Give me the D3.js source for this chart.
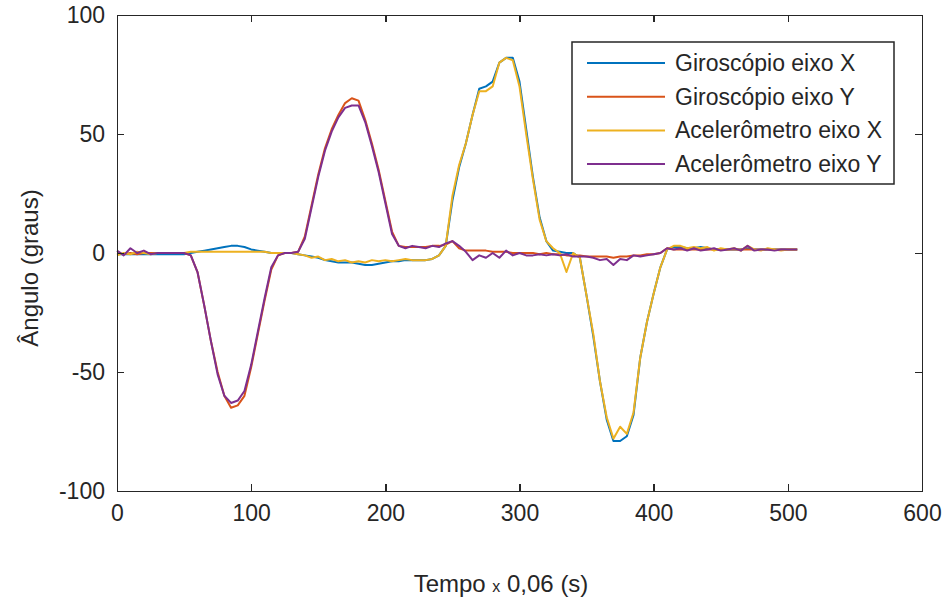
<!DOCTYPE html>
<html>
<head>
<meta charset="utf-8">
<script src="https://cdn.jsdelivr.net/npm/d3@7"></script>
<style>
  body { margin: 0; background: #fff; }
  svg { font-family: "Liberation Sans", Arial, sans-serif; }
  .axis path, .axis line { stroke: #262626; stroke-width: 1.5px; shape-rendering: crispEdges; }
  .axis text { fill: #262626; font-size: 23px; }
  .serie { fill: none; stroke-width: 2px; stroke-linejoin: round; }
</style>
</head>
<body>
<script>
// amostras (tempo x 0,06 s)
var tempo = [0,5,10,15,20,25,30,35,40,45,50,55,60,65,70,75,80,85,90,95,
  100,105,110,115,120,125,130,135,140,145,150,155,160,165,170,175,180,185,190,195,
  200,205,210,215,220,225,230,235,240,245,250,255,260,265,270,275,280,285,290,295,
  300,305,310,315,320,325,330,335,340,345,350,355,360,365,370,375,380,385,390,395,
  400,405,410,415,420,425,430,435,440,445,450,455,460,465,470,475,480,485,490,495,
  500,507];

var giroX = [-0.5,-0.5,-0.5,-0.5,-0.5,-0.5,-0.5,-0.5,-0.5,-0.5,-0.5,0,0.5,1,1.5,2,2.5,3,3,2.5,
  1.5,1,0.5,0,0,0,0,-0.5,-1,-1.5,-2,-3,-3.5,-4,-4,-4,-4.5,-5,-5,-4.5,
  -4,-3.5,-3.5,-3,-3,-3,-3,-2.5,-1,3,22,36,46,58,69,70,72,80,82,82,
  72,52,32,15,5,1,0.5,0,0,-2,-18,-35,-54,-70,-79,-79,-77,-68,-44,-29,
  -17,-6,1.5,2.5,2.5,2,2,2.5,2,1.5,1.5,1.5,1.5,1.5,2,1.5,1.5,1.5,1.5,1.5,
  1.5,1.5];

var giroY = [0,-0.5,0,-0.5,0,0,0,0,0,0,0,-1,-8,-22,-37,-50,-60,-65,-64,-60,
  -48,-34,-20,-7,-1,0,0,0.5,7,20,33,44,52,58,63,65,64,56,46,35,
  22,9,3,2.5,2.5,2.5,2.5,3,3,3.5,5,2,1,1,1,1,0.5,0.5,0.5,0,
  0,0,0,-0.5,0,-0.5,-0.5,-1,-1,-1,-1.5,-1.5,-1.5,-1.5,-2,-1.5,-1.5,-1,-1,-0.5,
  -0.5,0,2,1.5,1.5,1.5,1.5,1.5,1.5,1.5,1.5,1.5,1.5,1.5,1.5,1.5,1.5,1.5,1.5,1.5,
  1.5,1.5];

var acelX = [-1,0,-0.5,0.5,0,-0.5,0,0,0,0,0,0.5,0.5,0.5,0.5,0.5,0.5,0.5,0.5,0.5,
  0.5,0.5,0.5,0,0,0,0,-0.5,-1,-2,-1.5,-3,-2.5,-3.5,-3,-4,-3.5,-4,-3,-3.5,
  -3,-3.5,-3,-2.5,-3,-3,-3,-2.5,-1,3,24,37,46,58,68,68,70,80,82,81,
  70,50,31,14,5,2,0,-8,0,-2,-18,-34,-54,-69,-78,-73,-76,-67,-44,-29,
  -17,-6,1.5,3,3,2,2.5,2,2.5,1,2,1.5,2,1,3,1.5,1,2,1.5,1,
  1.5,1.5];

var acelY = [1,-1,2,0,1,-0.5,0,0,0,0,0,-1,-8,-22,-37,-51,-60,-63,-62,-58,
  -47,-33,-19,-6,-1,0,0,0.5,6,19,32,43,51,57,61,62,62,55,45,34,
  21,8,3,2,3,2.5,2,3,2.5,4,5,3,0.5,-3,-1,-2,0,-2,1,-1,
  0,-1,-1,-0.5,-1,-0.5,-1,-0.5,-1.5,-1.5,-1.5,-2,-3,-2.5,-5,-2.5,-3,-1,-1.5,-1,
  -0.5,0,2,1.5,2,1,2,1,1.5,2,1,1.5,2,1,3,1,1.5,1.5,1,1.5,
  1.5,1.5];

var nomes = ["Giroscópio eixo X", "Giroscópio eixo Y", "Acelerômetro eixo X", "Acelerômetro eixo Y"];
var cores = ["#0072BD", "#D95319", "#EDB120", "#7E2F8E"];
var xTicks = [0, 100, 200, 300, 400, 500, 600];
var yTicks = [-100, -50, 0, 50, 100];

var series = [giroX, giroY, acelX, acelY];

var W = 948, H = 602;
var m = {left: 117, right: 26, top: 15, bottom: 111};

var svg = d3.select("body").append("svg")
  .attr("width", W).attr("height", H);

var x = d3.scaleLinear().domain([0, 600]).range([m.left, W - m.right]);
var y = d3.scaleLinear().domain([-100, 100]).range([H - m.bottom, m.top]);

var line = d3.line()
  .x(function(d, i) { return x(tempo[i]); })
  .y(function(d) { return y(d); });

svg.selectAll("path.serie")
  .data(series)
  .enter().append("path")
  .attr("class", "serie")
  .attr("d", line)
  .attr("stroke", function(d, i) { return cores[i]; });

function fmt(d) { return String(d); }

svg.append("g").attr("class", "axis")
  .attr("transform", "translate(0," + y(-100) + ")")
  .call(d3.axisBottom(x).tickValues(xTicks).tickSize(-7).tickSizeOuter(0).tickPadding(14).tickFormat(fmt));
svg.append("g").attr("class", "axis")
  .attr("transform", "translate(0," + y(100) + ")")
  .call(d3.axisTop(x).tickValues(xTicks).tickSize(-7).tickSizeOuter(0).tickFormat(""));
svg.append("g").attr("class", "axis")
  .attr("transform", "translate(" + x(0) + ",0)")
  .call(d3.axisLeft(y).tickValues(yTicks).tickSize(-7).tickSizeOuter(0).tickPadding(12).tickFormat(fmt));
svg.append("g").attr("class", "axis")
  .attr("transform", "translate(" + x(600) + ",0)")
  .call(d3.axisRight(y).tickValues(yTicks).tickSize(-7).tickSizeOuter(0).tickFormat(""));

// rótulos
var xl = svg.append("text")
  .attr("x", 501).attr("y", 592)
  .attr("text-anchor", "middle")
  .attr("fill", "#262626")
  .style("font-size", "24px");
xl.append("tspan").text("Tempo ");
xl.append("tspan").style("font-size", "16px").text("x");
xl.append("tspan").text(" 0,06 (s)");

svg.append("text")
  .attr("transform", "translate(38,268) rotate(-90)")
  .attr("text-anchor", "middle")
  .attr("fill", "#262626")
  .style("font-size", "24px")
  .text("Ângulo (graus)");

// legenda
var leg = svg.append("g");
leg.append("rect")
  .attr("x", 572).attr("y", 42).attr("width", 322).attr("height", 142)
  .attr("fill", "#fff").attr("stroke", "#262626").attr("stroke-width", 1.5);
var itens = leg.selectAll("g.item").data(nomes).enter().append("g")
  .attr("transform", function(d, i) { return "translate(0," + (63 + i * 33.7) + ")"; });
itens.append("line")
  .attr("x1", 587).attr("x2", 665)
  .attr("stroke", function(d, i) { return cores[i]; })
  .attr("stroke-width", 2);
itens.append("text")
  .attr("x", 675).attr("dy", "0.35em")
  .attr("fill", "#262626")
  .style("font-size", "23px")
  .text(function(d) { return d; });
</script>
</body>
</html>
